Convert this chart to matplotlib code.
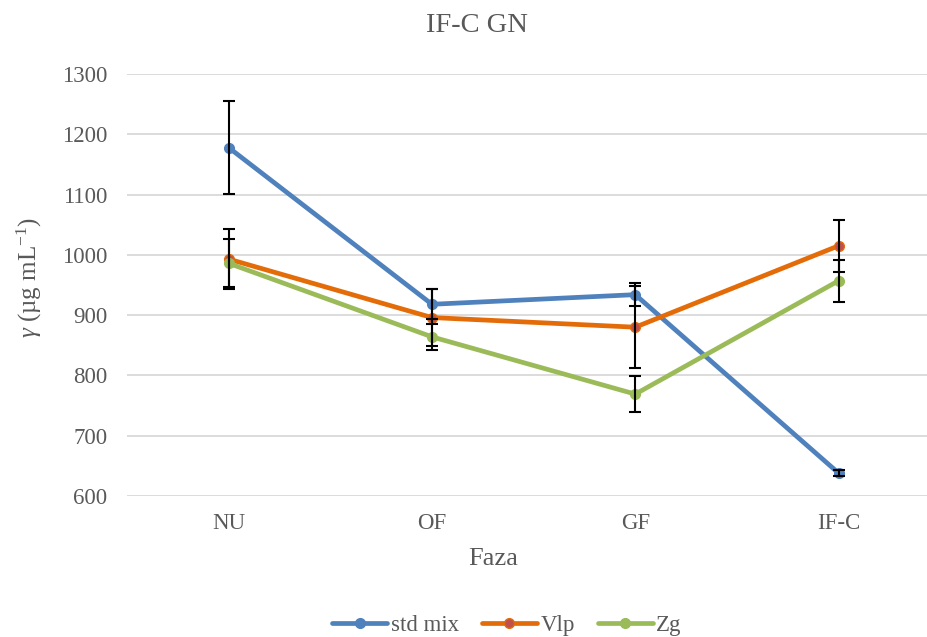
import matplotlib
matplotlib.use("Agg")
import matplotlib.pyplot as plt

categories = ["NU", "OF", "GF", "IF-C"]
series_names = ["std mix", "Vlp", "Zg"]
std_mix = [1178, 918, 934, 638]
std_mix_err = [77, 25, 19, 5]
vlp = [993, 896, 880, 1015]
vlp_err = [50, 48, 68, 43]
zg = [986, 864, 769, 957]
zg_err = [40, 22, 30, 35]
yticks = [600, 700, 800, 900, 1000, 1100, 1200, 1300]

plt.rcParams['font.family'] = ['Liberation Serif', 'DejaVu Serif']
plt.rcParams['mathtext.fontset'] = 'custom'
plt.rcParams['mathtext.rm'] = 'Liberation Serif'
plt.rcParams['mathtext.it'] = 'Liberation Serif:italic'

W, H = 927, 637
fig = plt.figure(figsize=(W/100, H/100), dpi=100)
left, right, top, bottom = 127, 927, 74, 496
ax = fig.add_axes([left/W, 1-bottom/H, (right-left)/W, (bottom-top)/H])

gray = '#595959'
colors = ['#4F81BD', '#E36C09', '#9BBB59']
mfc = ['#4F81BD', '#C0504D', '#9BBB59']
x = list(range(len(categories)))
data = [(std_mix, std_mix_err), (vlp, vlp_err), (zg, zg_err)]
for i, ((vals, errs), name) in enumerate(zip(data, series_names)):
    ax.plot(x, vals, color=colors[i], lw=3.4, marker='o', ms=7,
            mfc=mfc[i], mec=colors[i], mew=1, label=name, zorder=3+i,
            solid_capstyle='round')
for i, (vals, errs) in enumerate(data):
    ax.errorbar(x, vals, yerr=errs, fmt='none', ecolor='black', elinewidth=1.5,
                capsize=4.3, capthick=1.5, zorder=10)

ax.set_ylim(600, 1300)
ax.set_xlim(-0.5, -0.5 + (right-left)/203.3)
ax.set_yticks(yticks)
ax.set_xticks(x)
ax.set_xticklabels(categories)
ax.grid(axis='y', color='#D9D9D9', lw=1.3, zorder=0)
ax.set_axisbelow(True)
for s in ax.spines.values():
    s.set_visible(False)
ax.tick_params(axis='both', length=0, labelsize=16.5, labelcolor=gray)
ax.tick_params(axis='x', pad=12)
ax.tick_params(axis='y', pad=14)

fig.text(477/W, 1-25/H, "IF-C GN", ha='center', va='center', fontsize=20.5, color=gray)
fig.text(493/W, 1-559/H, "Faza", ha='center', va='center', fontsize=19, color=gray)
fig.text(29/W, 1-278/H, r'$\gamma$ (µg mL$^{\mathregular{-1}}$)', ha='center', va='center',
         rotation=90, fontsize=18, color=gray)

leg = fig.legend(loc='center', bbox_to_anchor=(507/W, 1-625/H), ncol=3, frameon=False,
                 fontsize=16.5, handlelength=2.4, columnspacing=1.0, handletextpad=0.15,
                 borderpad=0, borderaxespad=0)
for t in leg.get_texts():
    t.set_color(gray)

fig.savefig("out.png", dpi=100)
